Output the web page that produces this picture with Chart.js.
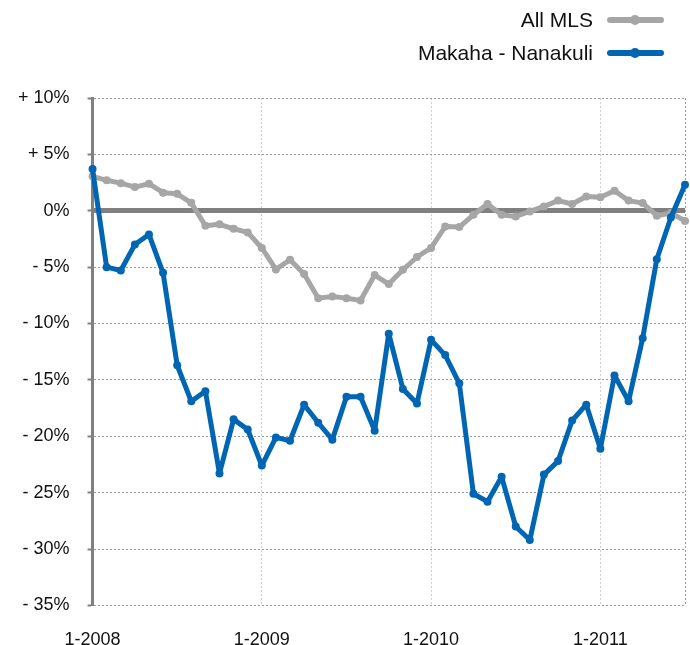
<!DOCTYPE html>
<html>
<head>
<meta charset="utf-8">
<script src="https://cdn.jsdelivr.net/npm/chart.js@4/dist/chart.umd.min.js"></script>
<style>
  html, body { margin: 0; padding: 0; background: #fff; overflow: hidden; }
  #wrap { position: relative; width: 690px; height: 645px; overflow: hidden; }
  #c { position: absolute; left: 0; top: 0; }
  .lg-text { position: absolute; right: 97px; height: 24px; line-height: 24px;
             font-family: "Liberation Sans", Arial, Helvetica, sans-serif; font-size: 21px; color: #111; white-space: nowrap; }
  .lg-line { position: absolute; left: 607px; width: 57px; height: 6px; border-radius: 3px; }
  .lg-dot { position: absolute; left: 630px; width: 10px; height: 10px; border-radius: 5px; }
</style>
</head>
<body>
<div id="wrap">
  <canvas id="c" width="709" height="675"></canvas>
  <div class="lg-text" style="top:8px">All MLS</div>
  <div class="lg-line" style="top:17px;background:#a6a6a6"></div>
  <div class="lg-dot" style="top:15px;background:#a6a6a6"></div>
  <div class="lg-text" style="top:41px">Makaha - Nanakuli</div>
  <div class="lg-line" style="top:50px;background:#0066b3"></div>
  <div class="lg-dot" style="top:48px;background:#0066b3"></div>
</div>
<script>
// ---- data ----
const years = [2008, 2009, 2010, 2011];
const lastMonthOf2011 = 7;
const seriesNames = ['All MLS', 'Makaha - Nanakuli'];
const allMLS = [3.05, 2.7, 2.45, 2.1, 2.4, 1.6, 1.5, 0.7, -1.33, -1.2, -1.6,
  -1.92, -3.3, -5.2, -4.35, -5.6, -7.75, -7.6, -7.75, -7.96, -5.7,
  -6.5, -5.24, -4.1, -3.3, -1.4, -1.45, -0.36, 0.6, -0.36, -0.5, -0.06,
  0.38, 0.9, 0.6, 1.27, 1.2, 1.78, 0.9, 0.68, -0.44, -0.2, -0.9];
const makahaNanakuli = [3.7, -5.0, -5.3, -3.0, -2.1, -5.5, -13.7, -16.9, -16.0, -23.3, -18.5,
  -19.4, -22.6, -20.1, -20.4, -17.2, -18.8, -20.3, -16.5, -16.5, -19.5,
  -10.9, -15.8, -17.1, -11.45, -12.8, -15.3, -25.1, -25.8, -23.6, -28.0, -29.2,
  -23.4, -22.2, -18.6, -17.2, -21.1, -14.6, -16.9, -11.3, -4.3, -0.6, 2.3];
const xTickLabels = ['1-2008', '1-2009', '1-2010', '1-2011'];
const yTickValues = [10, 5, 0, -5, -10, -15, -20, -25, -30, -35];
const yTickLabels = ['+ 10%', '+ 5%', '0%', '- 5%', '- 10%', '- 15%', '- 20%', '- 25%', '- 30%', '- 35%'];

// month categories
const months = [];
years.forEach(y => {
  const last = (y === years[years.length - 1]) ? lastMonthOf2011 : 12;
  for (let m = 1; m <= last; m++) months.push(m + '-' + y);
});

Chart.defaults.font.family = '"Liberation Sans", Arial, Helvetica, sans-serif';
Chart.defaults.color = '#111';

const lineStyle = { borderWidth: 5, pointRadius: 4, pointBorderWidth: 0, pointHoverRadius: 4,
  tension: 0, clip: false, borderJoinStyle: 'round', borderCapStyle: 'round' };

new Chart(document.getElementById('c'), {
  type: 'line',
  data: {
    labels: months,
    datasets: [
      Object.assign({ label: seriesNames[1], data: makahaNanakuli, borderColor: '#0066b3', backgroundColor: '#0066b3' }, lineStyle),
      Object.assign({ label: seriesNames[0], data: allMLS, borderColor: '#a6a6a6', backgroundColor: '#a6a6a6' }, lineStyle)
    ]
  },
  options: {
    responsive: false,
    animation: false,
    devicePixelRatio: 1,
    layout: { padding: { top: 98, left: 0, right: 0, bottom: 0 } },
    plugins: { legend: { display: false }, tooltip: { enabled: false } },
    scales: {
      x: {
        type: 'category',
        offset: false,
        border: { display: false, dash: [2, 2] },
        grid: {
          drawTicks: false,
          lineWidth: 1,
          color: (ctx) => {
            if (!ctx.tick) return 'transparent';
            if (ctx.index === months.length - 1) return '#9a9a9a';
            if (ctx.index > 0 && xTickLabels.includes(months[ctx.index])) return '#d0d0d0';
            return 'transparent';
          }
        },
        ticks: {
          autoSkip: false,
          maxRotation: 0,
          padding: 24,
          font: { size: 18 },
          callback: function (v, i) { const l = months[i]; return xTickLabels.includes(l) ? l : ''; }
        }
      },
      y: {
        type: 'linear',
        position: 'left',
        min: -35, max: 10,
        border: { display: true, color: '#808080', width: 3, dash: [2, 2] },
        grid: {
          color: '#9a9a9a', lineWidth: 1,
          drawTicks: true, tickLength: 5, tickColor: '#808080', tickWidth: 2, tickBorderDash: []
        },
        afterBuildTicks: (axis) => { axis.ticks = yTickValues.map(v => ({ value: v })); },
        ticks: {
          padding: 18,
          font: { size: 18 },
          callback: (v) => { const i = yTickValues.indexOf(v); return i >= 0 ? yTickLabels[i] : ''; }
        }
      },
      yz: {
        type: 'linear',
        position: 'right',
        min: -35, max: 10,
        border: { display: false },
        grid: {
          drawTicks: false,
          lineWidth: 5,
          color: (ctx) => (ctx.tick && ctx.tick.value === 0) ? '#808080' : 'transparent'
        },
        afterBuildTicks: (axis) => { axis.ticks = yTickValues.map(v => ({ value: v })); },
        ticks: { display: false }
      }
    }
  }
});
</script>
</body>
</html>
